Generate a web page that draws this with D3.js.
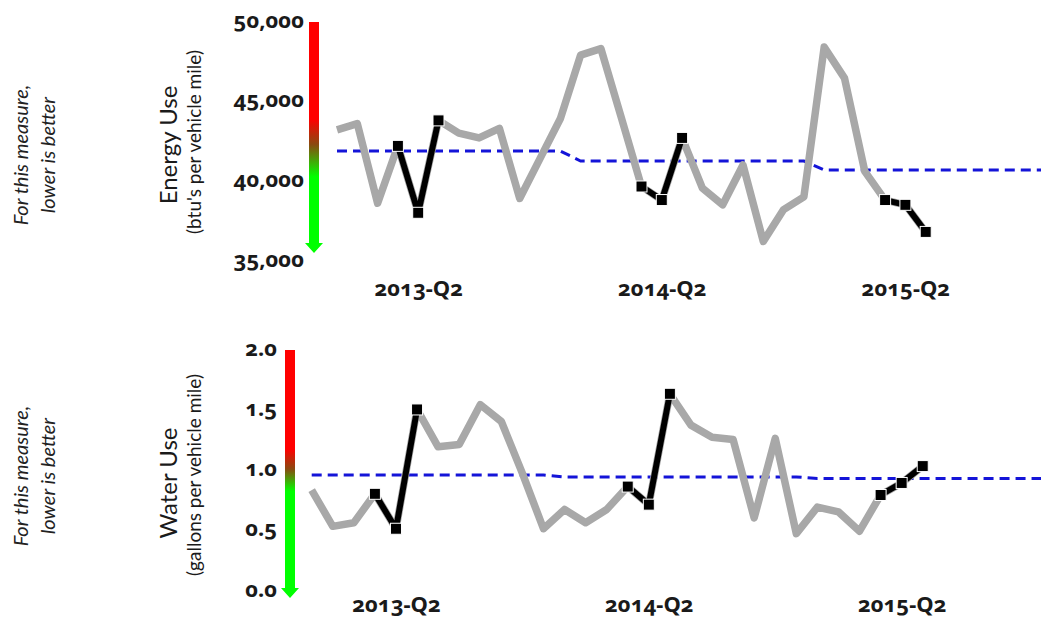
<!DOCTYPE html>
<html>
<head>
<meta charset="utf-8">
<script src="https://cdn.jsdelivr.net/npm/d3@7"></script>
<style>
  html, body { margin: 0; padding: 0; background: #fff; }
  svg { display: block; }
  .tick text { font-family: "Noto Sans", "Open Sans", sans-serif; font-weight: 700; fill: #1a1a1a; font-variant-numeric: oldstyle-nums; font-feature-settings: "onum" 1; }
  .note { font-family: Lato, "Open Sans", sans-serif; font-style: italic; fill: #222; }
  .title { font-family: Lato, "Open Sans", sans-serif; fill: #1a1a1a; }
</style>
</head>
<body>
<script>
// ---- data ----
const months = ["2013-01","2013-02","2013-03","2013-04","2013-05","2013-06","2013-07","2013-08","2013-09","2013-10","2013-11","2013-12",
  "2014-01","2014-02","2014-03","2014-04","2014-05","2014-06","2014-07","2014-08","2014-09","2014-10","2014-11","2014-12",
  "2015-01","2015-02","2015-03","2015-04","2015-05","2015-06","2015-07","2015-08","2015-09","2015-10","2015-11","2015-12"];
const quarterLabels = ["2013-Q2","2014-Q2","2015-Q2"];
const quarterMonth = ["2013-05","2014-05","2015-05"];
const highlightMonths = [["2013-04","2013-05","2013-06"],["2014-04","2014-05","2014-06"],["2015-04","2015-05","2015-06"]];

const energyValues = [43100,43500,38500,42100,37900,43700,42900,42600,43200,38800,41300,43800,
  47800,48200,43900,39550,38700,42600,39450,38400,40900,36100,38100,38900,
  48300,46350,40500,38700,38400,36700];
const energyTarget = [41780,41780,41780,41780,41780,41780,41780,41780,41780,41780,41780,41780,
  41150,41150,41150,41150,41150,41150,41150,41150,41150,41150,41150,41150,
  40590,40590,40590,40590,40590,40590,40590,40590,40590,40590,40590,40590];
const energyTicks = [35000,40000,45000,50000];

const waterValues = [0.82,0.52,0.55,0.79,0.50,1.49,1.18,1.20,1.53,1.39,0.96,0.50,
  0.66,0.55,0.66,0.85,0.70,1.62,1.36,1.26,1.24,0.59,1.25,0.46,
  0.68,0.64,0.48,0.78,0.88,1.02];
const waterTarget = [0.946,0.946,0.946,0.946,0.946,0.946,0.946,0.946,0.946,0.946,0.946,0.946,
  0.93,0.93,0.93,0.93,0.93,0.93,0.93,0.93,0.93,0.93,0.93,0.93,
  0.917,0.917,0.917,0.917,0.917,0.917,0.917,0.917,0.917,0.917,0.917,0.917];
const waterTicks = [0.0,0.5,1.0,1.5,2.0];

const W = 1041, H = 620;
const svg = d3.select("body").append("svg").attr("width", W).attr("height", H);
const defs = svg.append("defs");

function panel(cfg) {
  const x = d3.scalePoint().domain(months).range(cfg.xRange);
  const y = d3.scaleLinear().domain(cfg.yDomain).range(cfg.yRange);
  const g = svg.append("g");

  const grad = defs.append("linearGradient").attr("id", cfg.id + "g")
    .attr("x1",0).attr("y1",0).attr("x2",0).attr("y2",1);
  cfg.stops.forEach(s => grad.append("stop").attr("offset", s[0]).attr("stop-color", s[1]));

  // side note
  const note = g.append("text").attr("class","note")
    .attr("transform", `translate(${cfg.noteX},${cfg.noteY}) rotate(-90)`)
    .attr("text-anchor","middle").style("font-size","20px");
  note.append("tspan").attr("x",0).attr("dy","0").text("For this measure,");
  note.append("tspan").attr("x",0).attr("dy","27px").text("lower is better");

  // titles
  g.append("text").attr("class","title")
    .attr("transform", `translate(${cfg.titleX},${cfg.titleY}) rotate(-90)`)
    .attr("text-anchor","middle").style("font-size","24px").text(cfg.title);
  g.append("text").attr("class","title")
    .attr("transform", `translate(${cfg.titleX + 24},${cfg.subY}) rotate(-90)`)
    .attr("text-anchor","middle").style("font-size","19px").text(cfg.subtitle);

  // y axis labels
  const ya = g.append("g").attr("transform", `translate(${cfg.axisX},0)`)
    .call(d3.axisLeft(y).tickValues(cfg.ticks).tickSize(0).tickPadding(0).tickFormat(cfg.fmt));
  ya.select(".domain").remove();
  ya.selectAll(".tick text").style("font-size","22px");

  // gradient arrow
  const [y0, y1] = cfg.yRange; // bottom, top
  const bx = cfg.barX, bw = 10;
  g.append("path")
    .attr("d", `M${bx},${y1 + 2} H${bx + bw} V${y0 + cfg.tip - 10} H${bx + bw + 4} L${bx + bw/2},${y0 + cfg.tip} L${bx - 4},${y0 + cfg.tip - 10} H${bx} Z`)
    .attr("fill", `url(#${cfg.id}g)`);

  // x axis labels
  const xa = g.append("g").attr("transform", `translate(0,${cfg.xAxisY})`)
    .call(d3.axisBottom(x).tickValues(quarterMonth).tickSize(0).tickPadding(0)
      .tickFormat(d => quarterLabels[quarterMonth.indexOf(d)]));
  xa.select(".domain").remove();
  xa.selectAll(".tick text").style("font-size","22px");

  // target dashed line
  g.append("path").datum(cfg.target)
    .attr("d", d3.line().x((d,i) => x(months[i])).y(d => y(d)))
    .attr("fill","none").attr("stroke","#1414d8").attr("stroke-width",3).attr("stroke-dasharray","10,6");

  // gray series
  const line = d3.line().x((d,i) => x(months[i])).y(d => y(d));
  g.append("path").datum(cfg.values)
    .attr("d", line).attr("fill","none").attr("stroke","#a8a8a8").attr("stroke-width",7.5)
    .attr("stroke-linejoin","round");

  // highlighted quarters
  highlightMonths.forEach(ms => {
    const pts = ms.map(m => [x(m), y(cfg.values[months.indexOf(m)])]);
    g.append("path").datum(pts).attr("d", d3.line())
      .attr("fill","none").attr("stroke","#000").attr("stroke-width",6).attr("stroke-linejoin","round");
    g.selectAll(null).data(pts).enter().append("rect")
      .attr("x", d => d[0] - 5.5).attr("y", d => d[1] - 5.5)
      .attr("width", 11).attr("height", 11).attr("fill","#000").attr("stroke","#fff").attr("stroke-width",1);
  });
}

panel({
  id: "e",
  values: energyValues, target: energyTarget, ticks: energyTicks,
  fmt: d3.format(","),
  stops: [[0,"#ff0000"],[0.42,"#ff0000"],[0.53,"#8a4a10"],[0.67,"#00ff00"],[1,"#00ff00"]],
  xRange: [337, 337 + 35 * 20.3], yDomain: [35000, 50000], yRange: [259, 20],
  axisX: 304, barX: 309, tip: -6, xAxisY: 280,
  noteX: 28, noteY: 155, titleX: 177, titleY: 145, subY: 142,
  title: "Energy Use", subtitle: "(btu's per vehicle mile)"
});

panel({
  id: "w",
  values: waterValues, target: waterTarget, ticks: waterTicks,
  fmt: d3.format(".1f"),
  stops: [[0,"#ff0000"],[0.40,"#ff0000"],[0.48,"#8a4a10"],[0.57,"#00ff00"],[1,"#00ff00"]],
  xRange: [311.7, 311.7 + 35 * 21.07], yDomain: [0, 2], yRange: [589, 348],
  axisX: 277, barX: 285, tip: 9, xAxisY: 596,
  noteX: 28, noteY: 476, titleX: 177, titleY: 483, subY: 475,
  title: "Water Use", subtitle: "(gallons per vehicle mile)"
});
</script>
</body>
</html>
